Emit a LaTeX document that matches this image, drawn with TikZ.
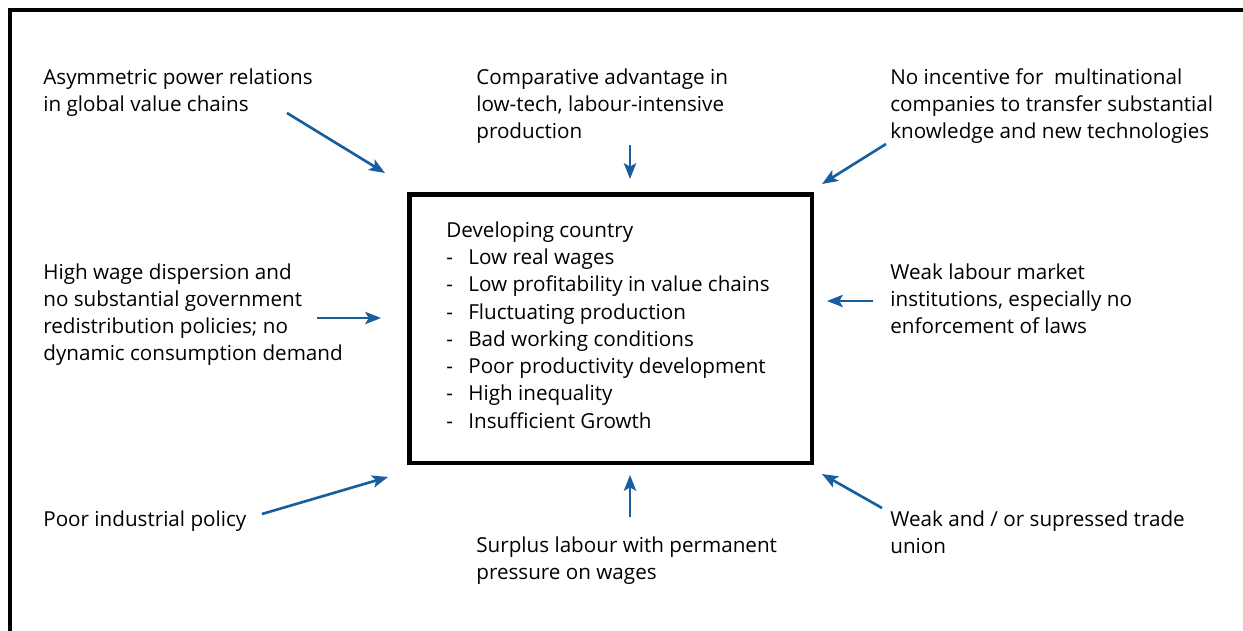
\documentclass[tikz,border=0pt]{standalone}
\usepackage{fontspec}
\setmainfont{Open Sans}
\usetikzlibrary{arrows.meta}
\usetikzlibrary{scopes}
\definecolor{arrowblue}{RGB}{22,94,158}
\newcommand{\itemdash}{\makebox[12.5pt][l]{-}}

\begin{document}
\begin{tikzpicture}[x=0.02cm, y=-0.02cm,
		cause/.style={anchor=north west, inner sep=0pt, align=left, font=\fontsize{11.75}{15.5}\selectfont},
		feed/.style={arrowblue, line width=1.5pt, -{Stealth[length=9pt, width=7pt, inset=2pt]}}]
		\useasboundingbox (0,0) rectangle (1243,631);
		\draw[line width=1.8pt] (10,631) -- (10,10) -- (1243,10);

		% central box
		\node[draw, line width=2.8pt, minimum width=8.05cm, minimum height=5.37cm] (country) at (610.75,328.75) {};
		\node[align=left, inner sep=0pt, font=\fontsize{11.75}{15.5}\selectfont] (symptoms) at (608,325)
			{Developing country\\
			\itemdash Low real wages\\
			\itemdash Low profitability in value chains\\
			\itemdash Fluctuating production\\
			\itemdash Bad working conditions\\
			\itemdash Poor productivity development\\
			\itemdash High inequality\\
			\itemdash Insufficient Growth};

		% causes
		\begin{scope}[every node/.style={cause}]
			\node (power) at (43,68) {Asymmetric power relations\\in global value chains};
			\node (advantage) at (476,68) {Comparative advantage in\\low-tech, labour-intensive\\production};
			\node (incentive) at (890,68) {No incentive for\ \ multinational\\companies to transfer substantial\\knowledge and new technologies};
			\node (wage) at (43,263) {High wage dispersion and\\no substantial government\\redistribution policies; no\\dynamic consumption demand};
			\node (institutions) at (890,263) {Weak labour market\\institutions, especially no\\enforcement of laws};
			\node (industry) at (43,510) {Poor industrial policy};
			\node (surplus) at (476,536) {Surplus labour with permanent\\pressure on wages};
			\node (union) at (890,510) {Weak and / or supressed trade\\union};
		\end{scope}

		\coordinate (powerA) at (287,113);
		\coordinate (powerB) at (385,173);
		\coordinate (advantageA) at (630,145);
		\coordinate (advantageB) at (630,179);
		\coordinate (incentiveA) at (886,144);
		\coordinate (incentiveB) at (822,184);
		\coordinate (wageA) at (317,318);
		\coordinate (wageB) at (381,318);
		\coordinate (institutionsA) at (873,301);
		\coordinate (institutionsB) at (827,301);
		\coordinate (industryA) at (262,514);
		\coordinate (industryB) at (388,477);
		\coordinate (surplusA) at (630,517);
		\coordinate (surplusB) at (630,475);
		\coordinate (unionA) at (882,508);
		\coordinate (unionB) at (822,474);

		\begin{scope}[feed]
			\draw (powerA) -- (powerB);
			\draw (advantageA) -- (advantageB);
			\draw (incentiveA) -- (incentiveB);
			\draw (wageA) -- (wageB);
			\draw (institutionsA) -- (institutionsB);
			\draw (industryA) -- (industryB);
			\draw (surplusA) -- (surplusB);
			\draw (unionA) -- (unionB);
		\end{scope}
	\end{tikzpicture}
\end{document}
